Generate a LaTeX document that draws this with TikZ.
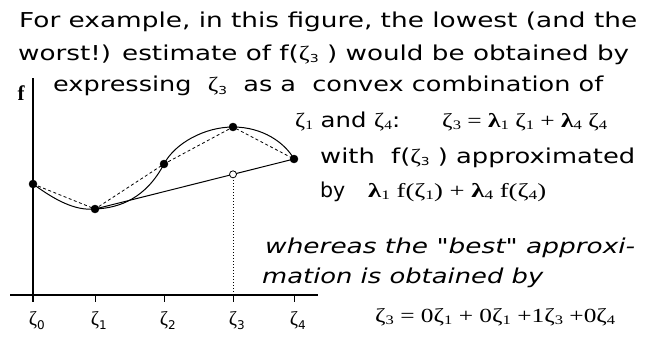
\documentclass[tikz,border=0pt]{standalone}
\usepackage{fontspec}
\usepackage{graphicx}
\usetikzlibrary{calc}
\newfontfamily\sfx{DejaVu Sans}
\newfontfamily\srf{Liberation Serif}
\newcommand\fitw[2]{\resizebox{#1pt}{\height}{#2}}
\newcommand\zs[1]{{\srf ζ}\raisebox{-0.25ex}{\fontsize{11}{11}\sfx #1}}
\newcommand\zr[1]{{\srf ζ\raisebox{-0.25ex}{\fontsize{13}{13}\selectfont #1}}}
\newcommand\lr[1]{{\srf\bfseries λ\raisebox{-0.25ex}{\fontsize{13}{13}\mdseries\selectfont #1}}}
\newcommand\zt[1]{{\srf ζ}\rlap{\raisebox{-0.45ex}{\fontsize{12}{12}\sfx #1}}}
\begin{document}
\begin{tikzpicture}[x=1pt,y=-1pt,
  txt/.style={anchor=base west, inner sep=0pt, font=\fontsize{20.5}{24}\sfx},
  itx/.style={anchor=base west, inner sep=0pt, font=\fontsize{20.5}{24}\sfx\itshape},
  mth/.style={anchor=base west, inner sep=0pt, font=\fontsize{20}{22}\srf},
  ticklab/.style={anchor=base, inner sep=0pt, font=\fontsize{20}{22}\srf},
  dot/.style={circle, fill=black, draw=black, inner sep=0pt, minimum size=8pt},
  odot/.style={circle, fill=white, draw=black, line width=0.8pt, inner sep=0pt, minimum size=7pt},
  axis/.style={line width=1.3pt},
  curve/.style={line width=1pt},
  dsh/.style={line width=0.8pt, dash pattern=on 3pt off 2.5pt},
  dtd/.style={line width=0.9pt, dash pattern=on 1pt off 2pt}]
\path[use as bounding box, fill=white] (0,0) rectangle (658,337);

% axes
\coordinate (XL) at (10,295);
\coordinate (XR) at (318,295);
\coordinate (YT) at (33,78);
\coordinate (YB) at (33,302);
\draw[axis] (XL) -- (XR);
\draw[axis] (YT) -- (YB);
\foreach \n/\x in {1/95,2/164,3/233,4/294}{
  \coordinate (T\n) at (\x,295);
  \coordinate (B\n) at (\x,302);
  \draw[line width=1pt] (T\n) -- (B\n);
}
\node[ticklab] (L0) at (33,325) {\zt{0}};
\node[ticklab] (L1) at (95,325) {\zt{1}};
\node[ticklab] (L2) at (164,325) {\zt{2}};
\node[ticklab] (L3) at (233,325) {\zt{3}};
\node[ticklab] (L4) at (294,325) {\zt{4}};
\node[anchor=base, inner sep=0pt, font=\fontsize{21}{22}\srf\bfseries] (fl) at (21,100) {f};

% points
\coordinate (C0) at (33,184);
\coordinate (C1) at (95,209);
\coordinate (C2) at (164,164);
\coordinate (C3) at (233,127);
\coordinate (C4) at (294,159);
\coordinate (Q) at ($(C1)!0.6935!(C4)$);

% curve
\draw[curve] (C0) .. controls (55,200) and (75,211) .. (C1)
  .. controls (120,208) and (146,198) .. (C2)
  .. controls (175,143) and (205,127) .. (C3)
  .. controls (263,127) and (285,143) .. (C4);
% dashed polygon
\draw[dsh] (C0) -- (C1) -- (C2) -- (C3) -- (C4);
% chord
\draw[curve] (C1) -- (C4);
% dotted drop
\draw[dtd] (Q) -- (Q |- XL);

\foreach \i in {0,...,4}{ \node[dot] (D\i) at (C\i) {}; }
\node[odot] (QO) at (Q) {};

% texts
\node[txt] (t1) at (19,28) {\fitw{618}{For example, in this figure, the lowest (and the}};
\node[txt] (t2) at (18,60) {\fitw{611}{worst!) estimate of f(\zs{3} ) would be obtained by}};
\node[txt] (t3) at (53,92) {\fitw{550}{expressing\ \ \zs{3}\ \ as a\ \ convex combination of}};
\node[txt] (t4a) at (295,127) {\fitw{105}{\zr{1} and \zr{4}:}};
\node[mth] (t4b) at (442,127) {\fitw{165}{\zr{3} = \lr{1} \zr{1} + \lr{4} \zr{4}}};
\node[txt] (t5) at (320,163) {\fitw{315}{with\ \ f(\zs{3} ) approximated}};
\node[txt] (t6a) at (320,197) {by};
\node[mth] (t6b) at (368,197) {\fitw{178}{\lr{1} f(\zr{1}) + \lr{4} f(\zr{4})}};
\node[itx] (t7) at (265,253) {\fitw{370}{whereas the "best" approxi-}};
\node[itx] (t8) at (262,283) {\fitw{281}{mation is obtained by}};
\node[mth] (t9) at (375,322) {\fitw{240}{\zr{3} = 0\zr{1} + 0\zr{1} +1\zr{3} +0\zr{4}}};
\end{tikzpicture}
\end{document}
